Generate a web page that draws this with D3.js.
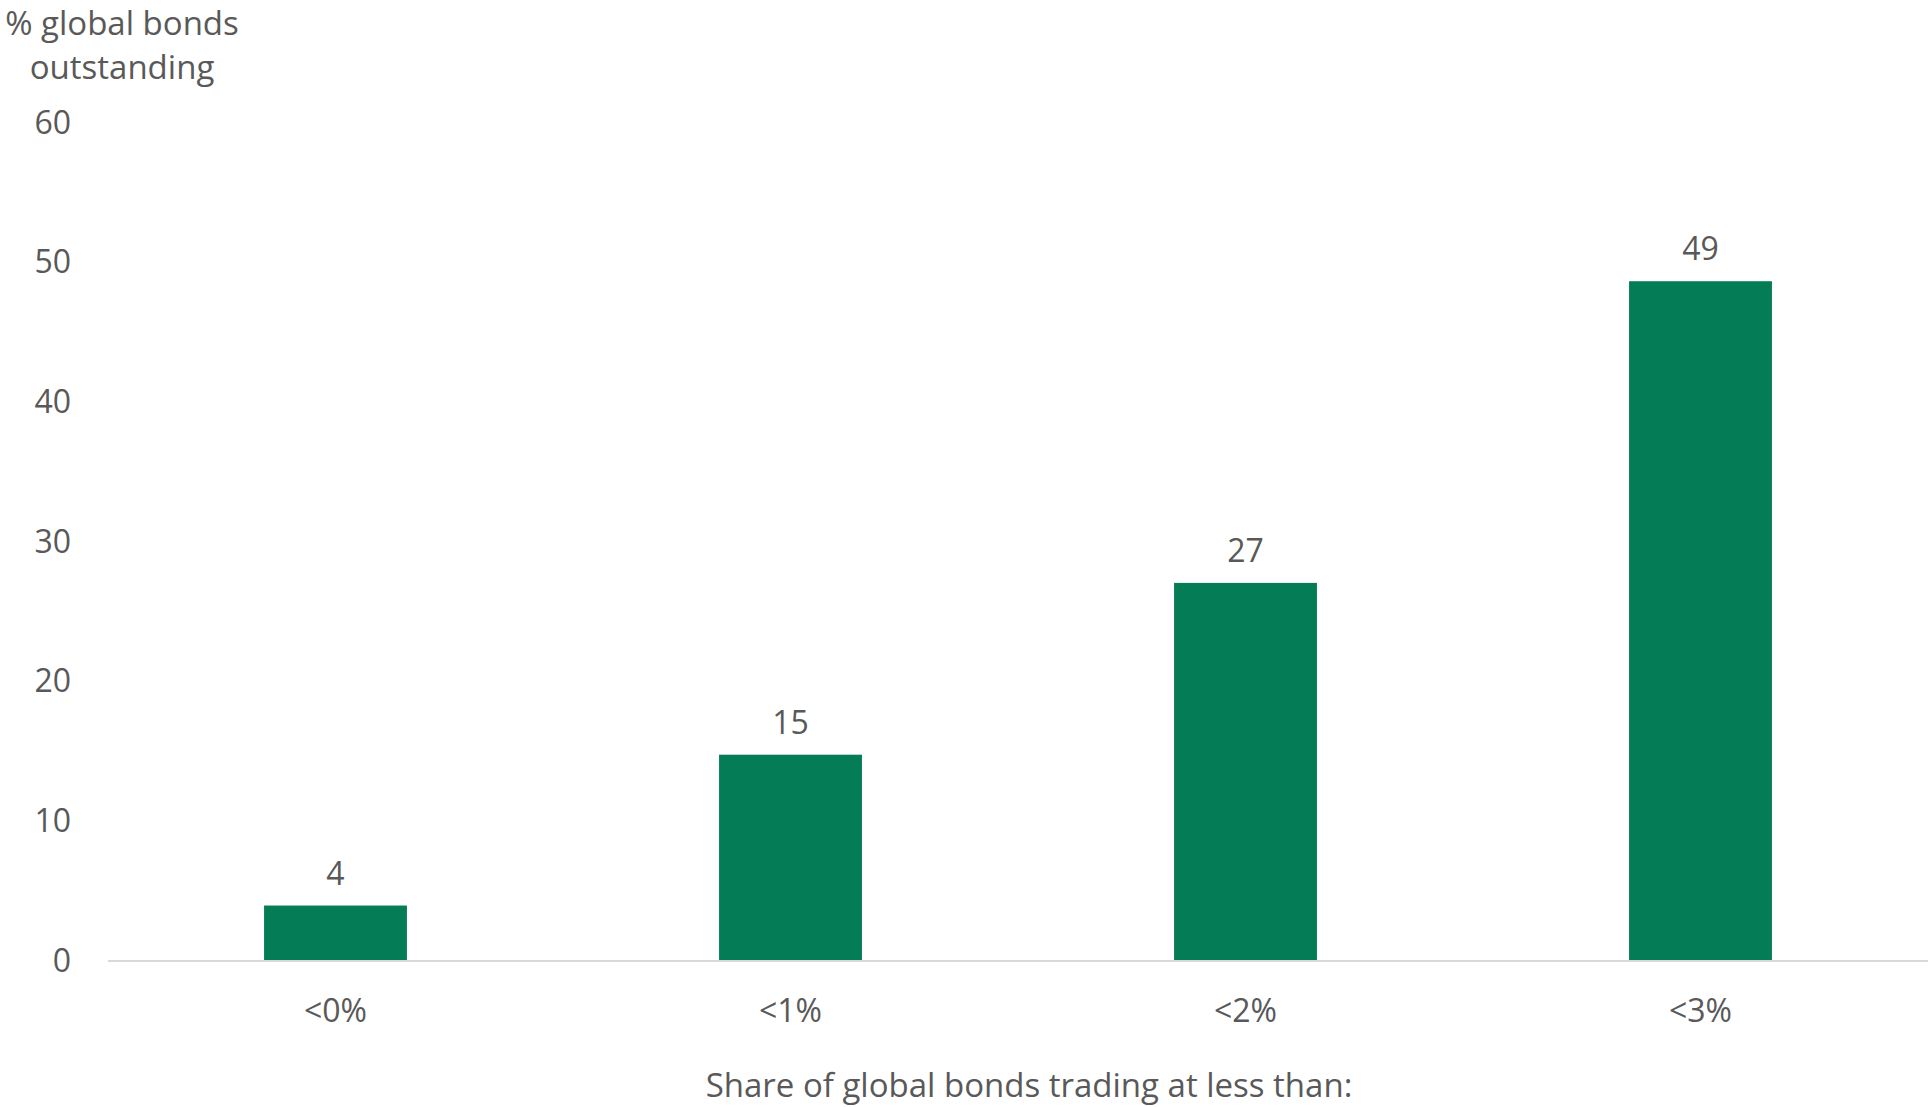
<!DOCTYPE html>
<html><head><meta charset="utf-8">
<script src="https://cdn.jsdelivr.net/npm/d3@7"></script>
<style>
html,body{margin:0;padding:0;background:#fff;}
text{font-family:"Open Sans","Noto Sans",sans-serif;fill:#595959;}
</style></head>
<body><svg id="c" width="1928" height="1107"></svg>
<script>
const categories = ["<0%", "<1%", "<2%", "<3%"];
const values = [3.9, 14.7, 27.0, 48.6];
const valueLabels = ["4", "15", "27", "49"];
const yTicks = [0, 10, 20, 30, 40, 50, 60];
const yTitle = ["% global bonds", "outstanding"];
const xTitle = "Share of global bonds trading at less than:";

(function () {
const svg = d3.select("#c");
const mLeft = 108, mRight = 1928, mTop = 122, mBottom = 960;
const x = d3.scaleBand().domain(categories).range([mLeft, mRight]).paddingInner(0.686).paddingOuter(0.343);
const y = d3.scaleLinear().domain([0, 60]).range([mBottom, mTop]);
const fs = 32, fsT = 33;

svg.append("g").selectAll("text").data(yTicks).join("text")
  .attr("x", 71).attr("y", d => y(d)).attr("dy", "0.36em")
  .attr("text-anchor", "end").style("font-size", fs + "px").text(d => d);

svg.append("g").selectAll("rect").data(values).join("rect")
  .attr("x", (d, i) => x(categories[i])).attr("width", x.bandwidth())
  .attr("y", d => y(d)).attr("height", d => y(0) - y(d)).attr("fill", "#047c56");

svg.append("line").attr("x1", mLeft).attr("x2", mRight).attr("y1", y(0) + 1).attr("y2", y(0) + 1)
  .attr("stroke", "#d9d9d9").attr("stroke-width", 2);

svg.append("g").selectAll("text").data(values).join("text")
  .attr("x", (d, i) => x(categories[i]) + x.bandwidth() / 2).attr("y", d => y(d) - 21)
  .attr("text-anchor", "middle").style("font-size", fs + "px").text((d, i) => valueLabels[i]);

svg.append("g").selectAll("text").data(categories).join("text")
  .attr("x", d => x(d) + x.bandwidth() / 2).attr("y", 1022)
  .attr("text-anchor", "middle").style("font-size", fs + "px").text(d => d);

svg.append("text").attr("x", 1029).attr("y", 1097).attr("text-anchor", "middle")
  .style("font-size", fsT + "px").text(xTitle);
svg.append("g").selectAll("text").data(yTitle).join("text")
  .attr("x", 122).attr("y", (d, i) => 35 + i * 44).attr("text-anchor", "middle")
  .style("font-size", fsT + "px").text(d => d);
})();
</script></body></html>
